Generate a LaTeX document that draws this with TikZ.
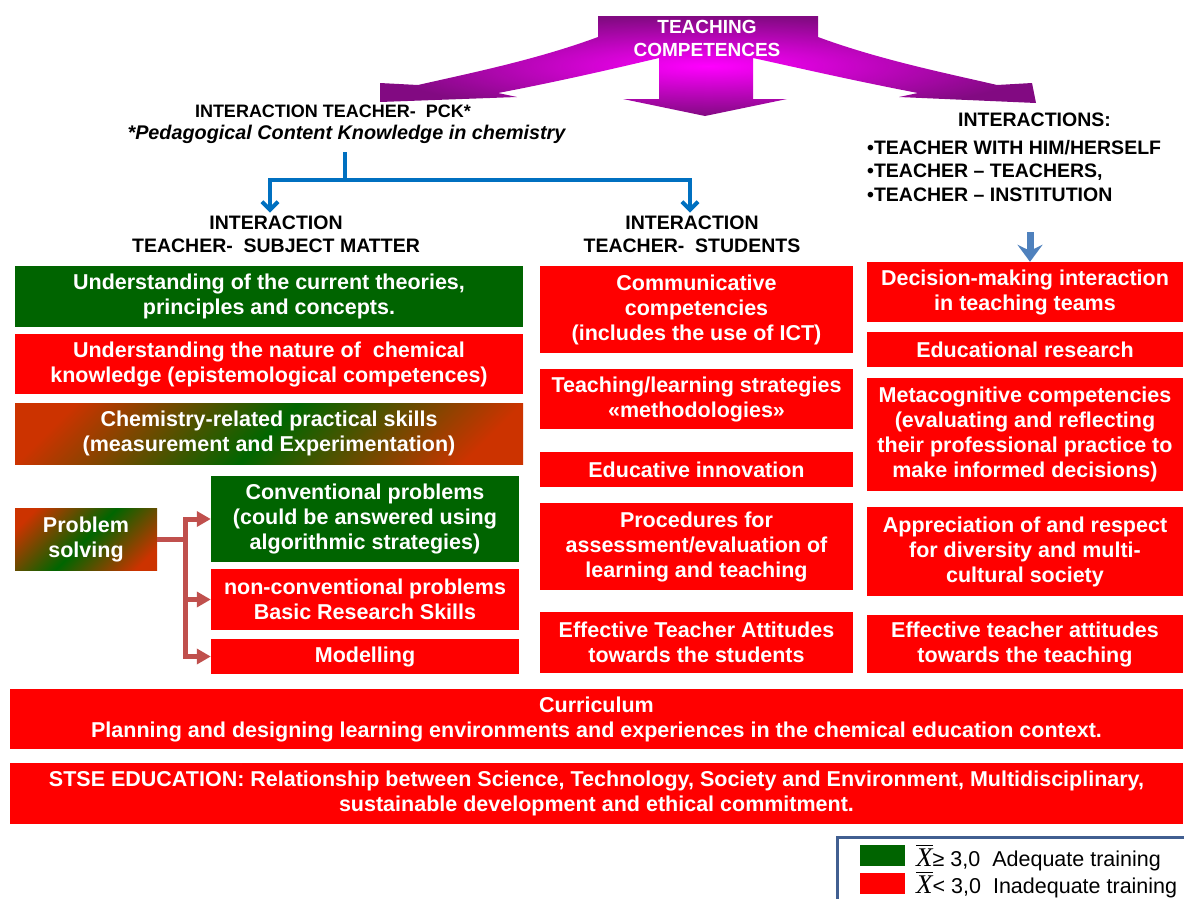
\documentclass[tikz,border=0pt]{standalone}
\usepackage{fontspec}
\setmainfont{Liberation Sans}
\newfontfamily\legserif{Liberation Serif}
\usetikzlibrary{arrows.meta}

\definecolor{boxgreen}{RGB}{0,100,0}
\definecolor{boxred}{RGB}{255,0,0}
\definecolor{mixred}{RGB}{204,51,0}
\definecolor{mixgreen}{RGB}{0,102,0}
\definecolor{purdark}{RGB}{130,10,130}
\definecolor{purlight}{RGB}{255,0,255}
\definecolor{brblue}{RGB}{0,112,192}
\definecolor{arrblue}{RGB}{79,129,189}
\definecolor{psline}{RGB}{192,80,77}
\definecolor{legframe}{RGB}{65,95,145}

\pgfdeclareverticalshading{redgreenred}{100bp}{color(0bp)=(mixred); color(22bp)=(mixred); color(50bp)=(mixgreen); color(78bp)=(mixred); color(100bp)=(mixred)}

\newcommand{\xbar}{\leavevmode\vbox{\hrule height 1.4pt\kern2.5pt\hbox{\legserif\itshape\fontsize{27}{27}\selectfont X}}}

\begin{document}
\begin{tikzpicture}[x=1pt,y=-1pt,
  box/.style={text=white,font=\bfseries\fontsize{21.5}{25}\selectfont,align=center,inner sep=0pt},
  gbox/.style={box,fill=boxgreen},
  rbox/.style={box,fill=boxred},
  mbox/.style={box,shade,shading=redgreenred,shading angle=45},
  head/.style={font=\bfseries\fontsize{19.5}{23}\selectfont,align=center},
  bracket/.style={brblue,line width=4pt},
  psconn/.style={psline,line width=5pt},
  legtext/.style={font=\fontsize{21.5}{25}\selectfont,anchor=west,inner sep=0pt}
]
\useasboundingbox (0,0) rectangle (1184,898);
\clip (0,0) rectangle (1184,898);

% big arrow on top
\shade[inner color=purlight,outer color=purdark]
  (598,16) -- (818,16) -- (818,37) .. controls (880,60) and (950,74) .. (997,85)
  -- (1032,83) -- (1036,103) -- (899,97) -- (918,93)
  .. controls (850,80) and (790,66) .. (753,58) -- (753,99) -- (787,99)
  -- (705,116) -- (623,99) -- (659,99) -- (659,58)
  .. controls (625,66) and (566,80) .. (498,93) -- (517,97) -- (380,102)
  -- (380,83) -- (418,85) .. controls (466,74) and (536,60) .. (598,37) -- cycle;
\node[text=white,font=\bfseries\fontsize{19}{23}\selectfont,align=center] (title) at (707,38.5) {TEACHING\\COMPETENCES};

% headers
\node[head,font=\bfseries\fontsize{18}{23}\selectfont] (pck) at (333,111) {INTERACTION TEACHER-~ PCK*};
\node[head,font=\bfseries\itshape\fontsize{19.8}{23}\selectfont] (pcknote) at (346.5,134) {*Pedagogical Content Knowledge in chemistry};
\node[head] (subj) at (276,234.5) {INTERACTION\\TEACHER-~ SUBJECT MATTER};
\node[head] (stud) at (692,234.5) {INTERACTION\\TEACHER-~ STUDENTS};
\node[head] (inthead) at (1034.5,120) {INTERACTIONS:};
\node[head,font=\bfseries\fontsize{19.5}{23.5}\selectfont,align=left,anchor=north west,inner sep=0pt] (intlist) at (867,140)
  {•TEACHER WITH HIM/HERSELF\\•TEACHER – TEACHERS,\\•TEACHER – INSTITUTION};

% left column
\node[gbox,minimum width=508pt,minimum height=61pt] (theo) at (269,296.5) {Understanding of the current theories,\\principles and concepts.};
\node[rbox,minimum width=508pt,minimum height=60pt] (natu) at (269,364) {Understanding the nature of~ chemical\\knowledge (epistemological competences)};
\node[mbox,minimum width=508pt,minimum height=61pt] (skil) at (269,433.5) {Chemistry-related practical skills\\(measurement and Experimentation)};
\node[mbox,minimum width=142pt,minimum height=62pt] (ps) at (86,539) {Problem\\solving};
\node[gbox,minimum width=308pt,minimum height=86pt] (conv) at (365,519) {Conventional problems\\(could be answered using\\algorithmic strategies)};
\node[rbox,minimum width=308pt,minimum height=61pt] (noncon) at (365,599.5) {non-conventional problems\\Basic Research Skills};
\node[rbox,minimum width=308pt,minimum height=35pt] (model) at (365,656.5) {Modelling};

% middle column
\node[rbox,minimum width=313pt,minimum height=87pt] (comm) at (696.5,309.5) {Communicative\\competencies\\(includes the use of ICT)};
\node[rbox,minimum width=313pt,minimum height=60pt] (strat) at (696.5,399) {Teaching/learning strategies\\«methodologies»};
\node[rbox,minimum width=313pt,minimum height=35pt] (innov) at (696.5,469.5) {Educative innovation};
\node[rbox,minimum width=313pt,minimum height=87pt] (proc) at (696.5,546.5) {Procedures for\\assessment/evaluation of\\learning and teaching};
\node[rbox,minimum width=313pt,minimum height=61pt] (attst) at (696.5,642.5) {Effective Teacher Attitudes\\towards the students};

% right column
\node[rbox,minimum width=316pt,minimum height=60pt] (dec) at (1025,292) {Decision-making interaction\\in teaching teams};
\node[rbox,minimum width=316pt,minimum height=35pt] (edres) at (1025,349.5) {Educational research};
\node[rbox,minimum width=316pt,minimum height=113pt] (meta) at (1025,434.5) {Metacognitive competencies\\(evaluating and reflecting\\their professional practice to\\make informed decisions)};
\node[rbox,minimum width=316pt,minimum height=89pt] (appr) at (1025,551.5) {Appreciation of and respect\\for diversity and multi-\\cultural society};
\node[rbox,minimum width=316pt,minimum height=58pt] (attte) at (1025,644) {Effective teacher attitudes\\towards the teaching};

% bottom rows
\node[rbox,minimum width=1173pt,minimum height=60pt] (curr) at (596.5,719) {Curriculum\\Planning and designing learning environments and experiences in the chemical education context.};
\node[rbox,minimum width=1173pt,minimum height=61pt] (stse) at (596.5,793.5) {STSE EDUCATION: Relationship between Science, Technology, Society and Environment, Multidisciplinary,\\sustainable development and ethical commitment.};

% blue connectors
\coordinate (brtop) at (345,152);
\coordinate (brmid) at (345,180);
\draw[bracket] (brtop) -- (brmid);
\draw[bracket,-{Straight Barb[length=8pt,width=16pt]}] (brmid) -| ([xshift=-6pt]subj.north);
\draw[bracket,-{Straight Barb[length=8pt,width=16pt]}] (brmid) -| ([xshift=-2pt]stud.north);
\coordinate (intarr) at (1030,232);
\draw[arrblue,line width=7pt,-{Stealth[length=17pt,width=25pt,inset=6pt]}] (intarr) -- (intarr |- dec.north);

% problem solving branches
\coordinate (psfork) at (185,539);
\draw[psconn] (ps.east) -- (psfork);
\draw[psconn,-{Triangle[length=14pt,width=15pt]}] (psfork) |- (conv.west);
\draw[psconn,-{Triangle[length=14pt,width=15pt]}] (psfork) |- (noncon.west);
\draw[psconn,-{Triangle[length=14pt,width=15pt]}] (psfork) |- (model.west);

% legend
\draw[legframe,line width=3pt] (837,837) rectangle (1200,910);
\node[fill=boxgreen,minimum width=45pt,minimum height=21pt,inner sep=0pt] (leggreen) at (882.5,855.5) {};
\node[fill=boxred,minimum width=45pt,minimum height=21pt,inner sep=0pt] (legred) at (882.5,883.5) {};
\node[legtext] (legadq) at (916,858) {\xbar≥ 3,0~ Adequate training};
\node[legtext] (leginadq) at (916,885) {\xbar< 3,0~ Inadequate training};
\end{tikzpicture}
\end{document}
